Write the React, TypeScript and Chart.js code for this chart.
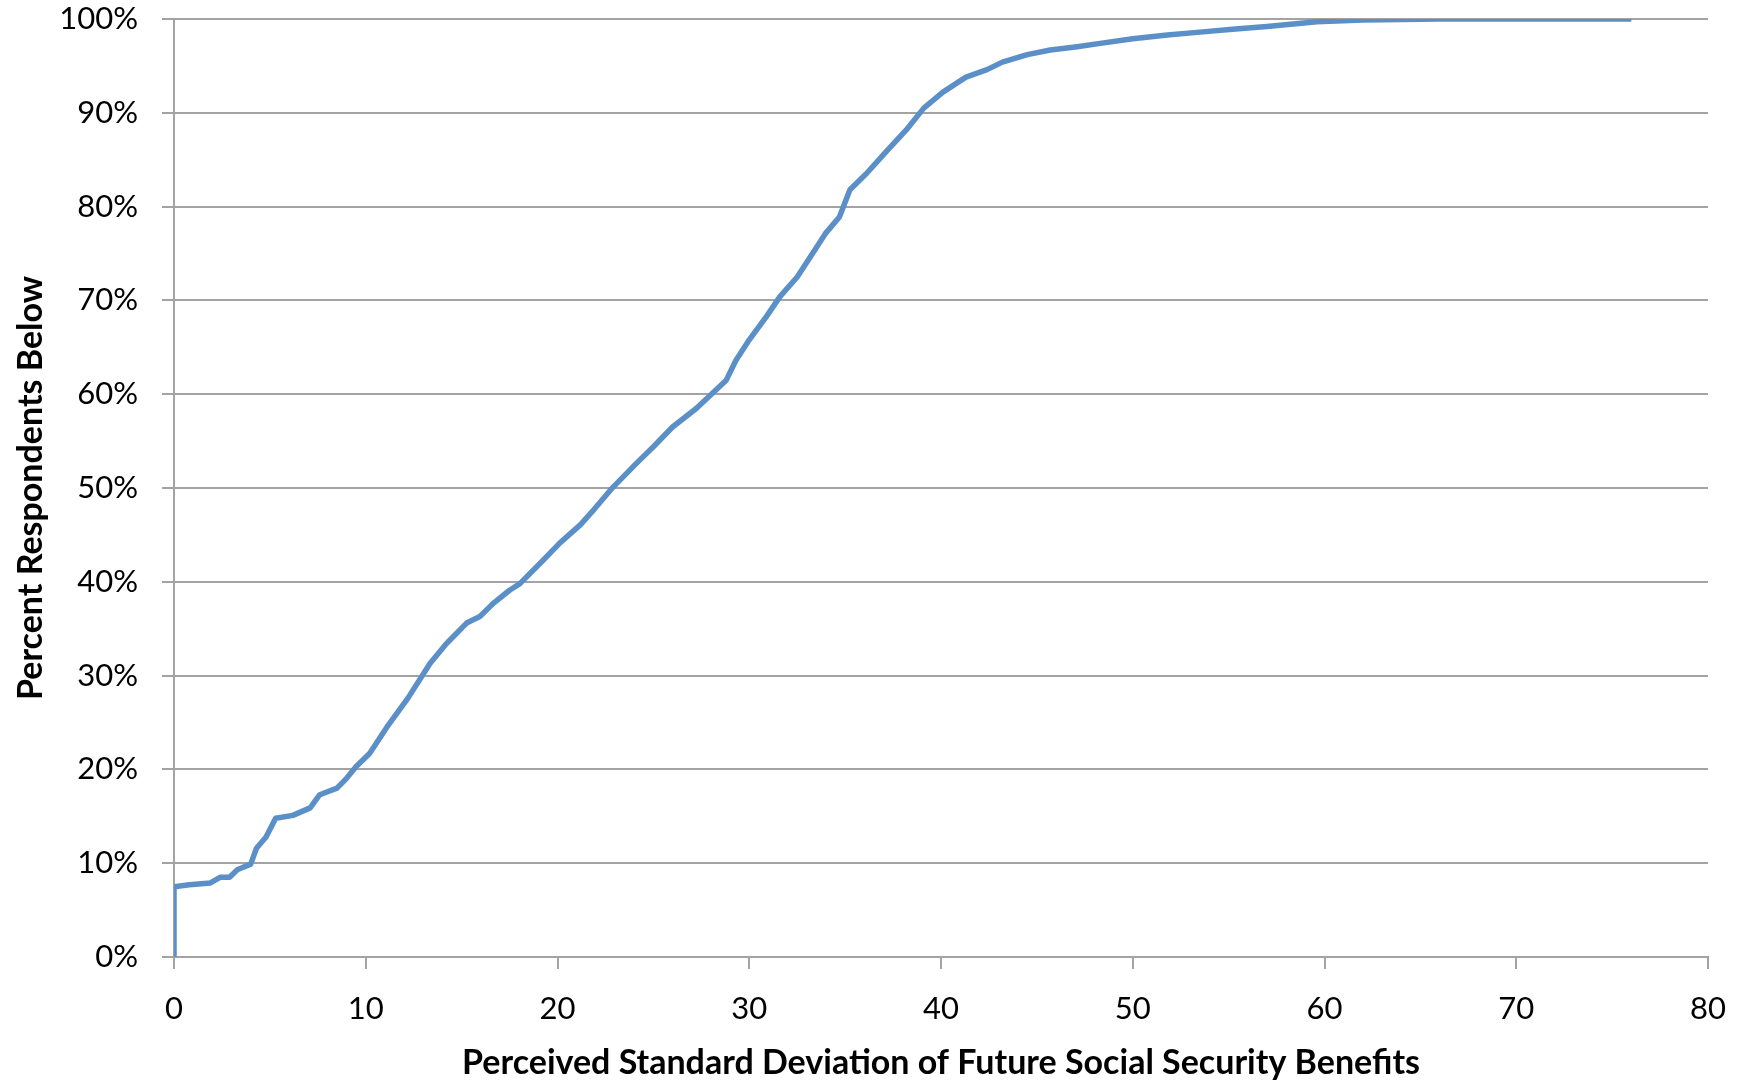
import React, { useEffect, useRef } from "react";
import { Chart, registerables } from "chart.js";

Chart.register(...registerables);

// Perceived standard deviation of future Social Security benefits (x)
const sdValues: number[] = [
  0, 0, 0.8, 1.9, 2.4, 2.9, 3.3, 4.0, 4.3, 4.8, 5.3, 6.2, 7.1, 7.6, 8.5, 9.0, 9.5,
  10.2, 11.1, 12.2, 13.35, 14.2, 15.26, 15.95, 16.65, 17.5, 18.04, 19.25, 20.1,
  21.2, 21.9, 22.9, 24.1, 25.0, 26.0, 27.25, 28.8, 29.3, 30.0, 30.9, 31.6, 32.5,
  33.3, 34.0, 34.7, 35.25, 36.1, 37.2, 38.2, 39.1, 40.1, 41.3, 42.4, 43.2, 44.5,
  45.7, 47.1, 48.3, 50.0, 51.8, 53.5, 55.2, 57.0, 59.6, 62.0, 66.0, 76.0,
];

// Percent of respondents below (y)
const pctBelow: number[] = [
  0, 7.5, 7.7, 7.9, 8.5, 8.5, 9.3, 9.9, 11.6, 12.8, 14.8, 15.1, 15.9, 17.3, 18.0,
  19.05, 20.3, 21.7, 24.5, 27.6, 31.3, 33.4, 35.6, 36.3, 37.7, 39.1, 39.8, 42.3,
  44.1, 46.1, 47.7, 50.1, 52.6, 54.4, 56.5, 58.5, 61.5, 63.6, 65.8, 68.3, 70.4,
  72.5, 75.0, 77.2, 78.9, 81.8, 83.5, 86.0, 88.2, 90.5, 92.2, 93.8, 94.6, 95.4,
  96.2, 96.7, 97.05, 97.4, 97.9, 98.3, 98.6, 98.9, 99.2, 99.7, 99.9, 100, 100,
];

const xTicks: number[] = [0, 10, 20, 30, 40, 50, 60, 70, 80];
const yTicks: number[] = [0, 10, 20, 30, 40, 50, 60, 70, 80, 90, 100];

const xTitle = "Perceived Standard Deviation of Future Social Security Benefits";
const yTitle = "Percent Respondents Below";

const FONT = "Lato";
const GRID = "#A3A3A3";
const LINE = "#5B8FC8";

export default function App() {
  const ref = useRef<HTMLCanvasElement | null>(null);

  useEffect(() => {
    if (!ref.current) return;
    const points = sdValues.map((x, i) => ({ x, y: pctBelow[i] }));
    const chart = new Chart(ref.current, {
      type: "scatter",
      data: {
        datasets: [
          {
            data: points,
            showLine: true,
            borderColor: LINE,
            backgroundColor: LINE,
            borderWidth: 5.5,
            pointRadius: 0,
            tension: 0,
            borderJoinStyle: "round",
          } as any,
        ],
      },
      options: {
        responsive: false,
        animation: false,
        layout: { padding: { top: 19, right: 38, left: 0, bottom: 0 } },
        plugins: { legend: { display: false }, tooltip: { enabled: false } },
        scales: {
          x: {
            type: "linear",
            min: 0,
            max: 80,
            afterFit: (s: any) => {
              s.height = 126;
            },
            afterBuildTicks: (s: any) => {
              s.ticks = xTicks.map((v) => ({ value: v }));
            },
            ticks: {
              color: "#000",
              font: { family: FONT, size: 31 },
              padding: 21,
              maxRotation: 0,
              callback: (v: any) => String(v),
            },
            grid: {
              drawOnChartArea: false,
              drawTicks: true,
              tickLength: 12,
              color: GRID,
              lineWidth: 2,
            },
            border: { display: true, color: GRID, width: 2 },
            title: {
              display: true,
              text: xTitle,
              color: "#000",
              font: { family: FONT, size: 34, weight: "bold" },
              padding: { top: 0, bottom: 0 },
            },
          },
          y: {
            type: "linear",
            min: 0,
            max: 100,
            afterFit: (s: any) => {
              s.width = 174;
              s.paddingTop = 10;
              s.paddingBottom = 10;
            },
            afterBuildTicks: (s: any) => {
              s.ticks = yTicks.map((v) => ({ value: v }));
            },
            ticks: {
              color: "#000",
              font: { family: FONT, size: 31 },
              padding: 24,
              callback: (v: any) => v + "%",
            },
            grid: {
              drawOnChartArea: true,
              drawTicks: true,
              tickLength: 12,
              color: GRID,
              lineWidth: 2,
            },
            border: { display: true, color: GRID, width: 2 },
            title: {
              display: true,
              text: yTitle,
              color: "#000",
              font: { family: FONT, size: 34, weight: "bold" },
              padding: { top: 11, bottom: 0 },
            },
          },
        },
      },
    });
    return () => chart.destroy();
  }, []);

  return (
    <div style={{ position: "absolute", left: 0, top: 0, width: 1747, height: 1083, background: "#fff" }}>
      <canvas ref={ref} width={1747} height={1083} style={{ display: "block" }} />
    </div>
  );
}
